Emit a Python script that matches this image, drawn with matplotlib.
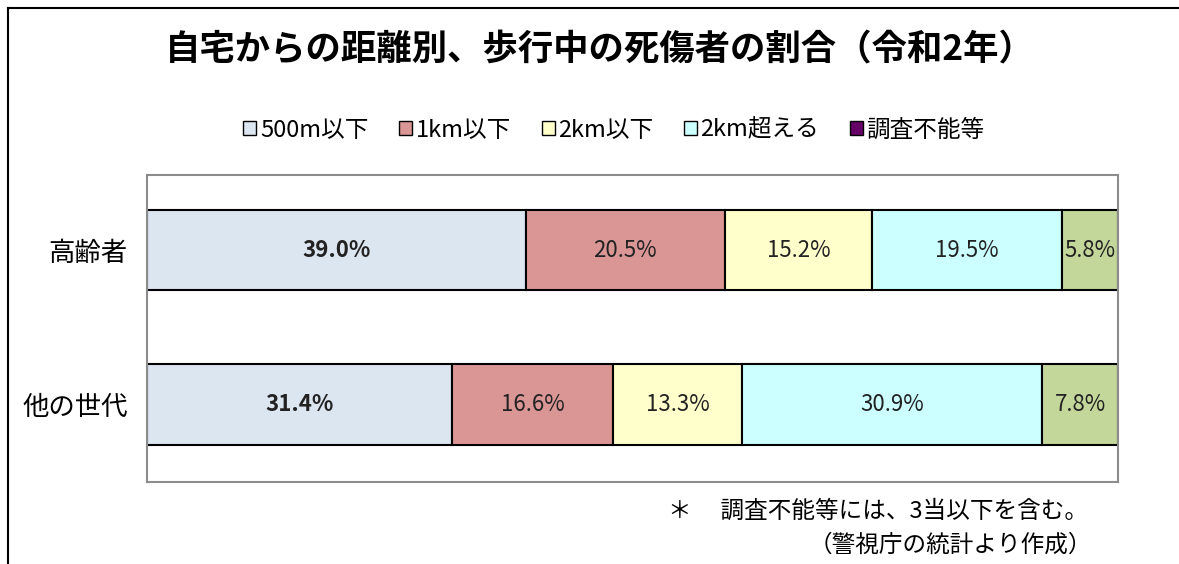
import matplotlib.pyplot as plt
import numpy as np
from matplotlib.patches import Patch
from matplotlib.lines import Line2D

plt.rcParams['font.family'] = ['Noto Sans CJK JP', 'DejaVu Sans']

# データ
groups = ["高齢者", "他の世代"]
categories = ["500m以下", "1km以下", "2km以下", "2km超える", "調査不能等"]
values = {
    "高齢者": [39.0, 20.5, 15.2, 19.5, 5.8],
    "他の世代": [31.4, 16.6, 13.3, 30.9, 7.8],
}
bar_colors = ["#DCE6F1", "#DA9694", "#FFFFCC", "#CCFFFF", "#C4D79B"]
legend_colors = ["#DCE6F1", "#DA9694", "#FFFFCC", "#CCFFFF", "#660066"]

fig = plt.figure(figsize=(11.79, 5.64), dpi=100)
ax = fig.add_axes([147 / 1179, 82 / 564, 971 / 1179, 307 / 564])

y = np.arange(len(groups))
for gi, g in enumerate(groups):
    left = 0
    for ci, v in enumerate(values[g]):
        ax.barh(gi, v, left=left, height=0.52, color=bar_colors[ci],
                edgecolor="black", linewidth=1.5)
        bold = "bold" if ci == 0 else "normal"
        ax.text(left + v / 2, gi, f"{v:.1f}%", ha="center", va="center",
                fontsize=16, color="#222222", fontweight=bold)
        left += v

ax.set_xlim(0, 100)
ax.set_ylim(1.5, -0.485)
ax.set_xticks([])
ax.set_yticks(y)
ax.set_yticklabels(groups, fontsize=19)
ax.tick_params(axis="y", length=0, pad=14)
for s in ax.spines.values():
    s.set_color("#8c8c8c")
    s.set_linewidth(1.5)

# タイトル
fig.text(600 / 1179, 1 - 50 / 564, "自宅からの距離別、歩行中の死傷者の割合（令和2年）",
         ha="center", va="center", fontsize=25.5, fontweight="bold")

# 凡例
handles = [Patch(facecolor=c, edgecolor="black", linewidth=1.0) for c in legend_colors]
fig.legend(handles, categories, loc="center", bbox_to_anchor=(614 / 1179, 1 - 130 / 564),
           ncol=5, frameon=False, fontsize=17, handlelength=0.55, handleheight=0.55,
           handletextpad=0.15, columnspacing=1.3)

# 注記
fig.text(1088 / 1179, 1 - 511 / 564, "＊　 調査不能等には、3当以下を含む。",
         ha="right", va="center", fontsize=17)
fig.text(1092 / 1179, 1 - 545 / 564, "（警視庁の統計より作成）",
         ha="right", va="center", fontsize=17)

# 外枠
fig.add_artist(Line2D([8 / 1179, 8 / 1179], [0, 1 - 8 / 564], color="black", linewidth=1.5))
fig.add_artist(Line2D([8 / 1179, 1], [1 - 8 / 564, 1 - 8 / 564], color="black", linewidth=1.5))

plt.savefig("out.png", dpi=100)
